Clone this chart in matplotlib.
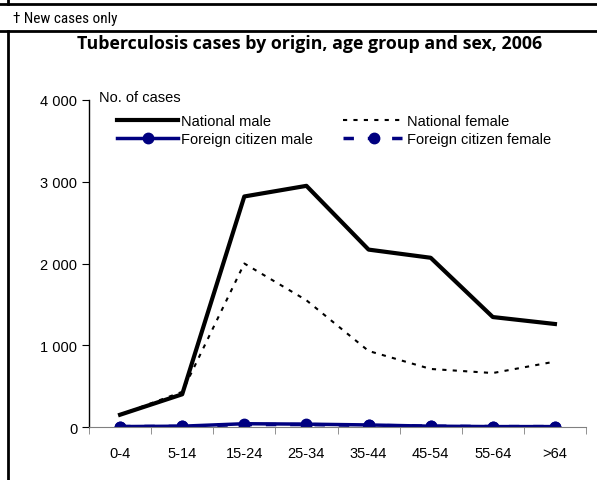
import matplotlib
matplotlib.use('Agg')
import matplotlib.pyplot as plt
from matplotlib.lines import Line2D
from matplotlib.ticker import FuncFormatter

plt.rcParams['font.family'] = ['Liberation Sans', 'DejaVu Sans']

# data
age_groups = ['0-4', '5-14', '15-24', '25-34', '35-44', '45-54', '55-64', '>64']
national_male = [150, 400, 2820, 2950, 2170, 2070, 1345, 1260]
national_female = [150, 430, 2000, 1550, 930, 710, 660, 800]
foreign_male = [5, 10, 40, 35, 25, 10, 5, 5]
foreign_female = [5, 8, 30, 30, 20, 10, 5, 5]

navy = '#000080'
narrow = ['Liberation Sans Narrow', 'Roboto Condensed', 'Open Sans', 'DejaVu Sans']

fig = plt.figure(figsize=(5.97, 4.81), dpi=100)

# frame lines and footnote of the page around the chart
fig.add_artist(Line2D([0, 1], [1 - 5/481, 1 - 5/481], color='black', lw=2))
fig.add_artist(Line2D([8/597, 8/597], [1, 1 - 5/481], color='black', lw=2))
fig.add_artist(Line2D([0, 1], [1 - 32/481, 1 - 32/481], color='black', lw=2))
fig.add_artist(Line2D([8/597, 8/597], [1 - 32/481, 0], color='black', lw=2))
fig.text(13/597, 1 - 19/481, '\u2020 New cases only', fontsize=11, family=narrow,
         ha='left', va='center')
fig.text(310/597, 1 - 44/481, 'Tuberculosis cases by origin, age group and sex, 2006',
         fontsize=12.8, fontweight='bold', family=['Open Sans', 'DejaVu Sans'],
         ha='center', va='center')

ax = fig.add_axes([89/597, 1 - 428/481, (586 - 89)/597, (428 - 101)/481])
x = list(range(len(age_groups)))

ax.plot(x, national_male, color='black', lw=3, label='National male')
ax.plot(x, national_female, color='black', lw=1.5, ls=(0, (2, 3)), label='National female')
ax.plot(x, foreign_male, color=navy, lw=2.5, marker='o', ms=7.5, label='Foreign citizen male')
ax.plot(x, foreign_female, color=navy, lw=2.5, ls=(0, (3, 4)), marker='o', ms=7.5,
        label='Foreign citizen female')

ax.set_xlim(-0.5, len(age_groups) - 0.5)
ax.set_ylim(0, 4000)
ax.set_yticks([0, 1000, 2000, 3000, 4000])
ax.yaxis.set_major_formatter(FuncFormatter(lambda v, p: f'{int(v):,}'.replace(',', ' ')))
ax.set_xticks(x)
ax.set_xticklabels(age_groups)
ax.set_xticks([i - 0.5 for i in range(len(age_groups) + 1)], minor=True)
ax.tick_params(axis='x', which='major', length=0, pad=14, labelsize=10.5)
ax.tick_params(axis='x', which='minor', length=5, color='#808080', direction='out')
ax.tick_params(axis='y', length=5, labelsize=10.5, direction='out')

for s in ['top', 'right']:
    ax.spines[s].set_visible(False)
ax.spines['bottom'].set_color('#808080')
ax.spines['left'].set_color('black')
ax.spines['left'].set_linewidth(1)

ax.text(0.02, 1.01, 'No. of cases', transform=ax.transAxes, fontsize=10.5, ha='left', va='center')

handles, labels = ax.get_legend_handles_labels()
order = [0, 2, 1, 3]
ax.legend([handles[i] for i in order], [labels[i] for i in order], ncol=2, frameon=False,
          loc='upper left', bbox_to_anchor=(0.045, 0.975), fontsize=10.5, handlelength=4.2,
          handletextpad=0.15, labelspacing=0.25, columnspacing=2.1, borderaxespad=0)

fig.savefig('out.png', dpi=100)
